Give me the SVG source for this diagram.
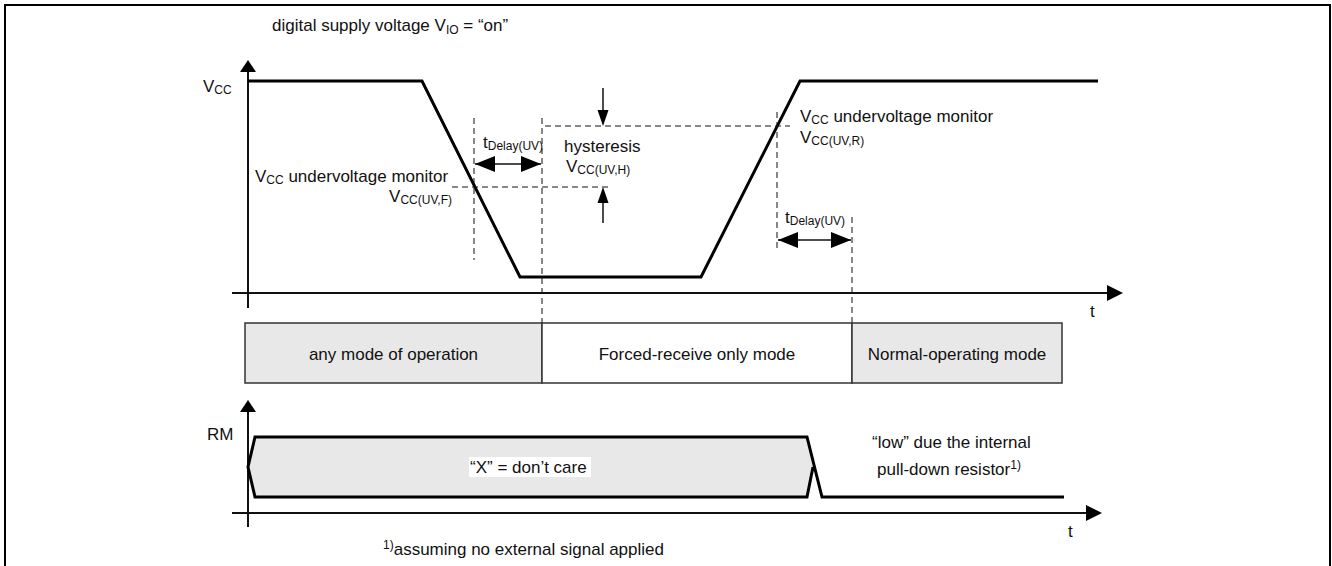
<svg xmlns="http://www.w3.org/2000/svg" width="1332" height="566" viewBox="0 0 1332 566">
<style>
text{font-family:"Liberation Sans",Arial,sans-serif;font-size:17px;fill:#111}
.s{font-size:12px}
.ax{stroke:#111;stroke-width:2;fill:none}
.wave{stroke:#000;stroke-width:3;fill:none;stroke-linejoin:miter}
.dash{stroke:#111;stroke-width:1;stroke-dasharray:6,4;fill:none}
.dim{stroke:#111;stroke-width:1.5;fill:none}
.box{stroke:#333;stroke-width:1.5}
.gray{fill:#e8e8e8}
.white{fill:#fff}
.head{fill:#000}
</style>
<defs>
<marker id="dh" viewBox="0 0 20 16" refX="20" refY="8" markerWidth="20" markerHeight="16" markerUnits="userSpaceOnUse" orient="auto-start-reverse"><path d="M0,0 L20,8 L0,16 Z" class="head"/></marker>
</defs>
<rect width="1332" height="566" fill="#fff"/>
<path d="M5,566 V5 H1330 V566" fill="none" stroke="#000" stroke-width="2"/>

<g id="title"><text x="272" y="31">digital supply voltage V<tspan class="s" dy="3">IO</tspan><tspan dy="-3"> = “on”</tspan></text></g>

<g id="axes">
<path class="ax" d="M248,308 V70"/>
<path class="head" d="M248,60 L240,72 L256,72 Z"/>
<path class="ax" d="M232,293 H1108"/>
<path class="head" d="M1123,293 L1107,285 L1107,301 Z"/>
<path class="ax" d="M248,527 V410"/>
<path class="head" d="M248,400 L240,412 L256,412 Z"/>
<path class="ax" d="M232,513 H1087"/>
<path class="head" d="M1102,513 L1086,505 L1086,521 Z"/>
</g>

<g id="vcc-label"><text x="203" y="92">V<tspan class="s" dy="2">CC</tspan></text></g>
<g id="t-top"><text x="1090" y="317">t</text></g>
<g id="rm-label"><text x="207" y="440">RM</text></g>
<g id="t-bottom"><text x="1068" y="537">t</text></g>

<g id="vcc-wave"><path class="wave" d="M248,81 H422 L520,277 H701 L800,81 H1098"/></g>

<g id="connectors">
<path class="dash" d="M474,118 V260"/>
<path class="dash" d="M542,118 V323"/>
<path class="dash" d="M452,187 H610"/>
<path class="dash" d="M545,126 H790"/>
<path class="dash" d="M777,112 V252"/>
<path class="dash" d="M852,217 V323"/>
<path class="dim" d="M475,164 H541" marker-start="url(#dh)" marker-end="url(#dh)"/>
<path class="dim" d="M778,240 H851" marker-start="url(#dh)" marker-end="url(#dh)"/>
<path class="dim" d="M603,88 V110"/>
<path class="head" d="M603,126 L597.5,110 L608.5,110 Z"/>
<path class="dim" d="M603,223 V202"/>
<path class="head" d="M603,187 L597.5,203 L608.5,203 Z"/>
</g>

<g id="uvf-label">
<text x="255" y="182">V<tspan class="s" dy="2">CC</tspan><tspan dy="-2"> undervoltage monitor</tspan></text>
<text x="452" y="202" text-anchor="end">V<tspan class="s" dy="2">CC(UV,F)</tspan></text>
</g>
<g id="tdelay1-label"><text x="483" y="148">t<tspan class="s" dy="2">Delay(UV)</tspan></text></g>
<g id="hyst-label">
<text x="564" y="152">hysteresis</text>
<text x="566" y="172">V<tspan class="s" dy="2">CC(UV,H)</tspan></text>
</g>
<g id="uvr-label">
<text x="800" y="122">V<tspan class="s" dy="2">CC</tspan><tspan dy="-2"> undervoltage monitor</tspan></text>
<text x="800" y="143">V<tspan class="s" dy="2">CC(UV,R)</tspan></text>
</g>
<g id="tdelay2-label"><text x="785" y="223">t<tspan class="s" dy="2">Delay(UV)</tspan></text></g>

<g id="mode-any"><rect class="box gray" x="245" y="323" width="297" height="60"/><text x="393.5" y="360" text-anchor="middle">any mode of operation</text></g>
<g id="mode-forced"><rect class="box white" x="542" y="323" width="310" height="60"/><text x="697" y="360" text-anchor="middle">Forced-receive only mode</text></g>
<g id="mode-normal"><rect class="box gray" x="852" y="323" width="210" height="60"/><text x="957" y="360" text-anchor="middle">Normal-operating mode</text></g>

<g id="rm-wave">
<polygon class="gray" points="248,467 255,437 807,437 813,467 807,497 255,497"/>
<path class="wave" d="M813,467 L807,497 H255 L248,467 L255,437 H807 L822,497 H1064"/>
</g>
<g id="dont-care"><rect x="469" y="457" width="122" height="20" fill="#fff"/><text x="470" y="473">“X” = don’t care</text></g>
<g id="low-label">
<text x="872" y="448">“low” due the internal</text>
<text x="877" y="475">pull-down resistor<tspan class="s" dy="-6">1)</tspan></text>
</g>
<g id="footnote"><text x="383" y="555"><tspan class="s" dy="-6">1)</tspan><tspan dy="6">assuming no external signal applied</tspan></text></g>
</svg>
